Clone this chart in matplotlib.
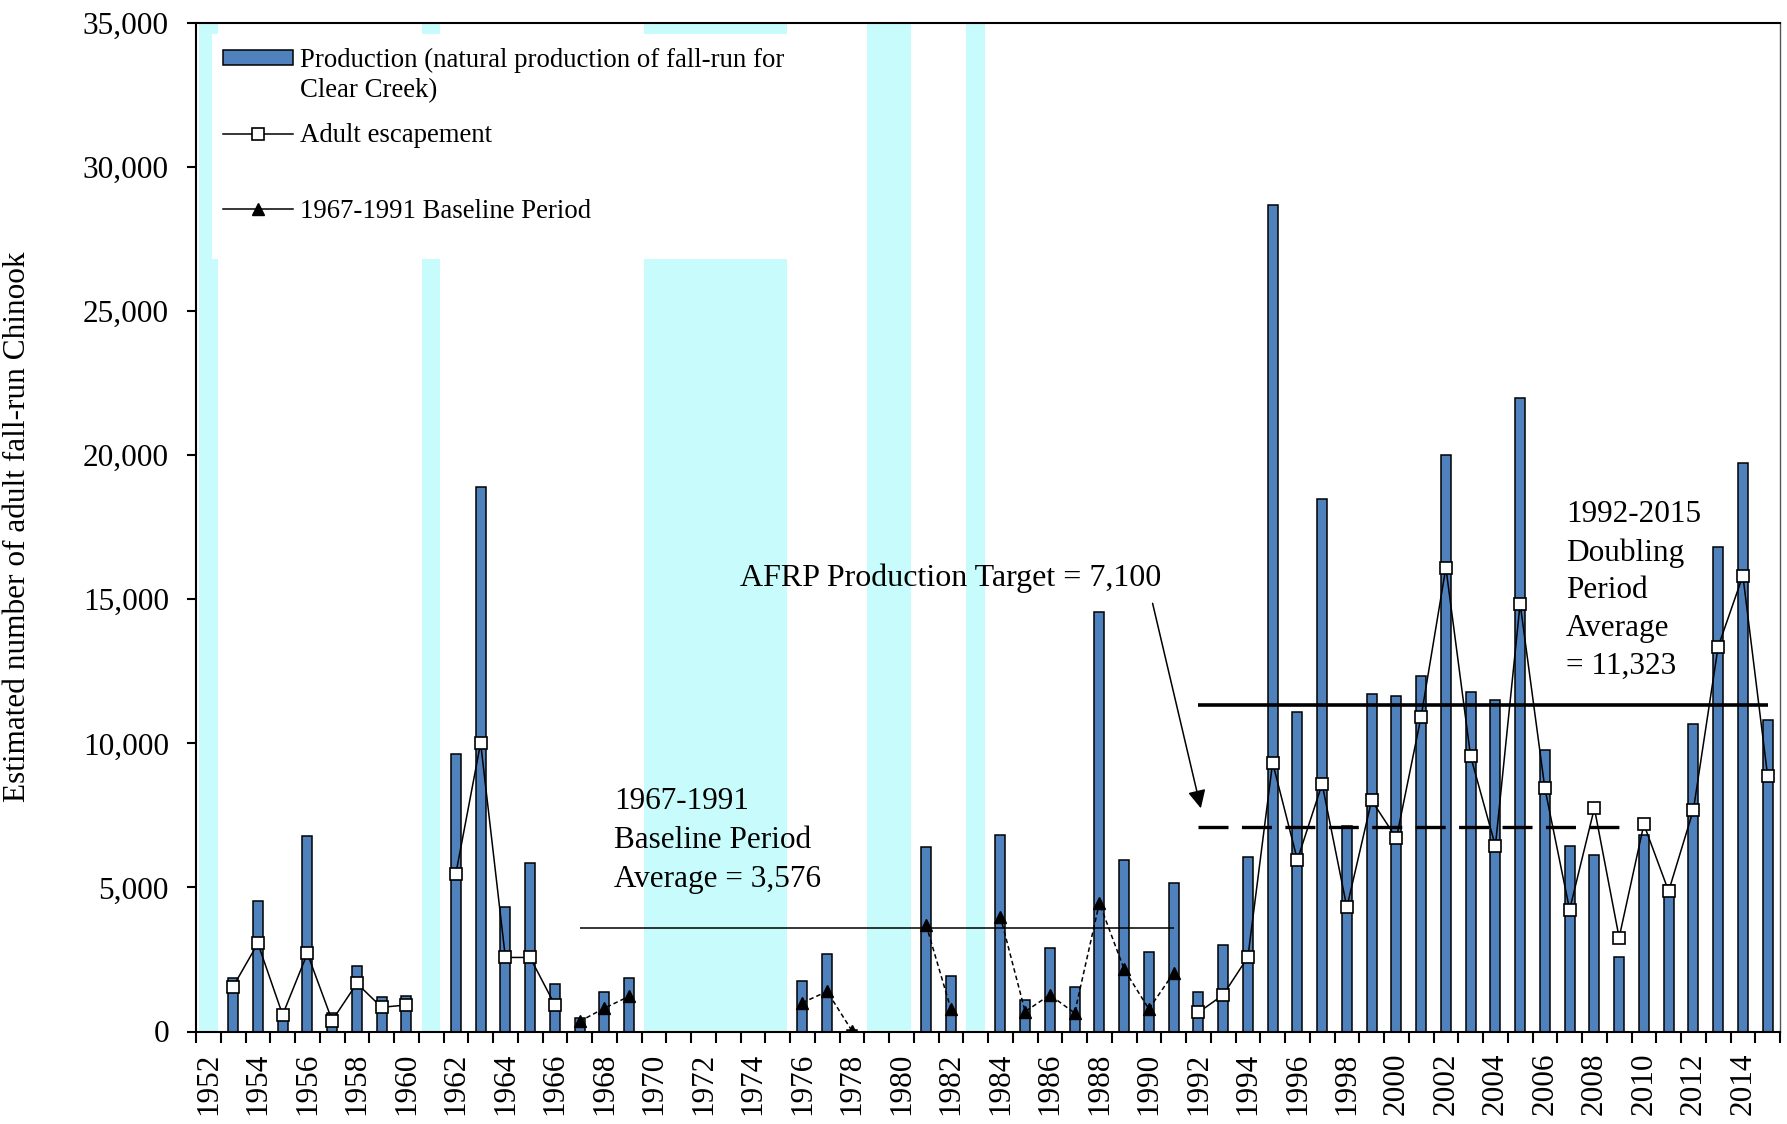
import numpy as np
import matplotlib
matplotlib.use("Agg")
import matplotlib.pyplot as plt
from matplotlib.patches import Rectangle, Patch
from matplotlib.lines import Line2D
from matplotlib.ticker import FuncFormatter

plt.rcParams['font.family'] = ['Liberation Serif', 'DejaVu Serif']

nan = np.nan

# ---------------- data ----------------
years = list(range(1952, 2016))

production = [nan, 1850, 4530, 730, 6800, 630, 2270, 1180, 1230, nan,
              9630, 18900, 4330, 5850, 1640,
              480, 1380, 1860, nan, nan, nan, nan, nan, nan, 1740, 2700, 60,
              nan, nan, 6410, 1930, nan, 6830, 1110, 2890, 1530, 14550, 5940,
              2770, 5170,
              1370, 3010, 6070, 28670, 11080, 18470, 7130, 11700, 11640, 12330,
              20000, 11770, 11490, 21970, 9780, 6450, 6120, 2600, 6830, 5070,
              10660, 16800, 19720, 10810]

escapement = [nan, 1560, 3060, 580, 2710, 380, 1670, 840, 920, nan,
              5480, 10010, 2570, 2570, 920,
              350, 810, 1220, nan, nan, nan, nan, nan, nan, 1000, 1390, 30,
              nan, nan, 3700, 780, nan, 3990, 690, 1270, 640, 4460, 2160,
              780, 2030,
              660, 1270, 2580, 9330, 5960, 8590, 4310, 8020, 6710, 10930,
              16100, 9550, 6440, 14850, 8440, 4230, 7750, 3260, 7190, 4870,
              7690, 13350, 15820, 8870]

baseline_period = (1967, 1991)
baseline_avg = 3576
doubling_period = (1992, 2015)
doubling_avg = 11323
afrp_target = 7100
target_span = (1992, 2009)

tick_years = years[::2]

# ---------------- figure ----------------
W, H = 1787, 1124
fig = plt.figure(figsize=(W / 100, H / 100), dpi=100, facecolor='white')
ax = fig.add_axes([196 / W, 1 - 1031.5 / H, 1584 / W, 1008.5 / H])
ax.set_facecolor('white')

yrs = np.array(years)
idx = yrs - years[0]
prod = np.array(production, dtype=float)
esc = np.array(escapement, dtype=float)

def pos(year):
    return year - years[0]

# cyan bands over years with no production data
cyan = '#C8FCFC'
empty = np.isnan(prod)
i = 0
n = len(years)
while i < n:
    if empty[i]:
        j = i
        while j + 1 < n and empty[j + 1]:
            j += 1
        ax.axvspan(idx[i] - 0.38, idx[j] + 0.37, color=cyan, lw=0, zorder=0)
        i = j + 1
    else:
        i += 1

# white legend background block
ax.add_patch(Rectangle((0.0101, 0.766), 0.381 - 0.0101, 0.9891 - 0.766,
                       transform=ax.transAxes, facecolor='white',
                       edgecolor='none', zorder=0.5))

# bars
has = ~np.isnan(prod)
bar_color = '#4F81BD'
ax.bar(idx[has], prod[has], width=0.4, color=bar_color, edgecolor='black',
       linewidth=1.1, zorder=2)

# escapement lines
in_base = (yrs >= baseline_period[0]) & (yrs <= baseline_period[1])
esc_other = np.where(in_base, np.nan, esc)
esc_base = np.where(in_base, esc, np.nan)
ax.plot(idx, esc_other, '-', color='black', lw=1.1, marker='s', ms=8,
        mfc='white', mec='black', mew=1.2, zorder=5)
ax.plot(idx, esc_base, color='black', lw=1.1, ls=(0, (3, 2)), marker='^',
        ms=9, mfc='black', mec='black', zorder=5)

# average / target lines
ax.hlines(baseline_avg, pos(baseline_period[0]), pos(baseline_period[1]),
          color='black', lw=1.1, zorder=3)
ax.hlines(doubling_avg, pos(doubling_period[0]), pos(doubling_period[1]),
          color='black', lw=2.6, zorder=3)
ax.plot([pos(target_span[0]), pos(target_span[1])], [afrp_target, afrp_target],
        color='black', lw=2.4, dashes=(9.0, 4.03), solid_capstyle='butt',
        dash_capstyle='butt', zorder=3)

# text annotations (va='baseline' anchors the last line's baseline)
fs = 22.5
ax.text(16.38, 5025, '1967-1991\nBaseline Period\nAverage = 3,576',
        fontsize=fs, ha='left', va='baseline', linespacing=1.45, zorder=6)
ax.text(30.0, 15470, 'AFRP Production Target = 7,100', fontsize=23,
        ha='center', va='baseline', zorder=6)
ax.annotate('', xy=(40.1, 7746), xytext=(38.15, 14860),
            arrowprops=dict(arrowstyle='-|>,head_length=0.55,head_width=0.27',
                            color='black', lw=1.1, shrinkA=0, shrinkB=0,
                            mutation_scale=20), zorder=6)
ax.text(54.85, 12407, '1992-2015\nDoubling\nPeriod\nAverage\n= 11,323',
        fontsize=fs, ha='left', va='baseline', linespacing=1.4, zorder=6)

# axes
ax.set_xlim(-0.5, n - 0.5)
ax.set_ylim(0, 35000)
ax.set_xticks(idx[::2])
ax.set_xticklabels([str(y) for y in tick_years], rotation=90, fontsize=fs)
ax.set_xticks(np.arange(-0.5, n, 1), minor=True)
ax.tick_params(axis='x', which='major', length=0, pad=15)
ax.tick_params(axis='x', which='minor', length=8, width=1.5, direction='out')
ax.set_yticks(np.arange(0, 35001, 5000))
ax.yaxis.set_major_formatter(FuncFormatter(lambda v, p: f'{int(v):,}'))
ax.tick_params(axis='y', which='major', length=6.5, width=1.5, pad=13,
               labelsize=fs, direction='out')
ax.set_ylabel('Estimated number of adult fall-run Chinook', fontsize=fs)
ax.yaxis.set_label_coords(-0.1035, 0.5)

for s in ['left', 'bottom', 'top']:
    ax.spines[s].set_linewidth(1.5)
    ax.spines[s].set_color('black')
ax.spines['right'].set_linewidth(1.0)
ax.spines['right'].set_color('#555555')
for s in ax.spines.values():
    s.set_zorder(7)

# legend
handles = [Patch(facecolor=bar_color, edgecolor='black', lw=1.1),
           Line2D([], [], color='black', lw=1.1, marker='s', ms=8,
                  mfc='white', mec='black', mew=1.2),
           Line2D([], [], color='black', lw=1.1, marker='^', ms=9,
                  mfc='black', mec='black')]
labels = ['Production (natural production of fall-run for',
          'Adult escapement', '1967-1991 Baseline Period']
leg = ax.legend(handles, labels, loc='upper left',
                bbox_to_anchor=(0.01705, 0.9753), frameon=False, fontsize=19.3,
                handlelength=2.6, handleheight=0.5, handletextpad=0.27,
                labelspacing=1.88, borderpad=0, borderaxespad=0)
leg.set_zorder(8)
ax.annotate('Clear Creek)', xy=(0, 0.5), xycoords=leg.get_texts()[0],
            xytext=(0, -30), textcoords='offset pixels', ha='left',
            va='center', fontsize=19.3, zorder=9)

fig.canvas.draw()
fig.savefig('out.png', dpi=100, facecolor='white')
